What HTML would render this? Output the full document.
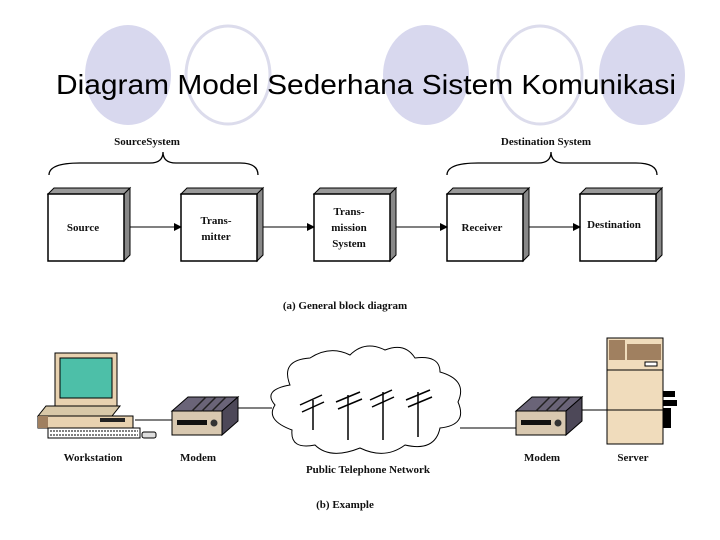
<!DOCTYPE html>
<html><head><style>
body{margin:0;background:#fff;width:720px;height:540px;overflow:hidden}
svg{display:block}
.t{font-family:"Liberation Serif",serif;font-weight:bold;font-size:11px;fill:#111}
</style></head><body>
<svg width="720" height="540" viewBox="0 0 720 540">
<defs>
<marker id="ar" markerWidth="8" markerHeight="8" refX="7" refY="4" orient="auto" markerUnits="userSpaceOnUse"><path d="M0,0 L8,4 L0,8z" fill="#000"/></marker>
<g id="box">
<path d="M0,6 L6,0 L82,0 L76,6z" fill="#999" stroke="#000" stroke-width="1"/>
<path d="M76,6 L82,0 L82,67 L76,73z" fill="#888" stroke="#000" stroke-width="1"/>
<rect x="0" y="6" width="76" height="67" fill="#fff" stroke="#000" stroke-width="1.5"/>
</g>
<g id="modem">
<path d="M0,14 L16,0 L66,0 L50,14z" fill="#6a6478" stroke="#000"/>
<path d="M50,14 L66,0 L66,24 L50,38z" fill="#4d4858" stroke="#000"/>
<rect x="0" y="14" width="50" height="24" fill="#d8c8b0" stroke="#000"/>
<rect x="5" y="23" width="30" height="5" fill="#111"/>
<circle cx="42" cy="26" r="3.5" fill="#333"/>
<path d="M20,14 L34,0 M30,14 L44,0 M40,14 L54,0" stroke="#222" stroke-width="1.5"/>
</g>
</defs>
<ellipse cx="128" cy="75" rx="43" ry="50" fill="#d8d8ee"/>
<ellipse cx="228" cy="75" rx="42" ry="49" fill="none" stroke="#dcdcec" stroke-width="3"/>
<ellipse cx="426" cy="75" rx="43" ry="50" fill="#d8d8ee"/>
<ellipse cx="540" cy="75" rx="42" ry="49" fill="none" stroke="#dcdcec" stroke-width="3"/>
<ellipse cx="642" cy="75" rx="43" ry="50" fill="#d8d8ee"/>
<text x="366" y="94" text-anchor="middle" font-family="Liberation Sans,sans-serif" font-size="28" textLength="620" lengthAdjust="spacingAndGlyphs" fill="#000">Diagram Model Sederhana Sistem Komunikasi</text>

<text class="t" x="147" y="145" text-anchor="middle">SourceSystem</text>
<text class="t" x="546" y="145" text-anchor="middle">Destination System</text>
<path d="M49,175 Q49,163 80,163 L150,163 Q163,163 163,152 Q163,163 176,163 L240,163 Q258,163 258,175" fill="none" stroke="#000" stroke-width="1.3"/>
<path d="M447,175 Q447,163 478,163 L538,163 Q551,163 551,152 Q551,163 564,163 L636,163 Q657,163 657,175" fill="none" stroke="#000" stroke-width="1.3"/>

<use href="#box" x="48" y="188"/>
<use href="#box" x="181" y="188"/>
<use href="#box" x="314" y="188"/>
<use href="#box" x="447" y="188"/>
<use href="#box" x="580" y="188"/>
<text class="t" x="83" y="231" text-anchor="middle">Source</text>
<text class="t" x="216" y="224" text-anchor="middle">Trans-</text>
<text class="t" x="216" y="240" text-anchor="middle">mitter</text>
<text class="t" x="349" y="215" text-anchor="middle">Trans-</text>
<text class="t" x="349" y="231" text-anchor="middle">mission</text>
<text class="t" x="349" y="247" text-anchor="middle">System</text>
<text class="t" x="482" y="231" text-anchor="middle">Receiver</text>
<text class="t" x="614" y="228" text-anchor="middle">Destination</text>
<g stroke="#000" stroke-width="1" marker-end="url(#ar)">
<line x1="130" y1="227" x2="181" y2="227"/>
<line x1="263" y1="227" x2="314" y2="227"/>
<line x1="396" y1="227" x2="447" y2="227"/>
<line x1="529" y1="227" x2="580" y2="227"/>
</g>
<text class="t" x="345" y="309" text-anchor="middle">(a) General block diagram</text>

<g stroke="#000" stroke-width="1">
<line x1="135" y1="420" x2="175" y2="420"/>
<line x1="238" y1="408" x2="272" y2="408"/>
<line x1="460" y1="428" x2="517" y2="428"/>
<line x1="582" y1="410" x2="608" y2="410"/>
</g>
<rect x="55" y="353" width="62" height="53" fill="#e8d2b0" stroke="#000"/>
<rect x="60" y="358" width="52" height="40" fill="#4dbfa8" stroke="#000"/>
<rect x="72" y="406" width="36" height="6" fill="#c8b090" stroke="#000"/>
<path d="M38,416 L46,406 L120,406 L112,416z" fill="#d8c8a8" stroke="#000"/>
<rect x="38" y="416" width="95" height="12" fill="#e8d2b0" stroke="#000"/>
<rect x="38" y="416" width="10" height="12" fill="#a08060"/>
<rect x="100" y="418" width="25" height="4" fill="#222"/>
<rect x="48" y="428" width="92" height="10" fill="#fff" stroke="#000"/>
<path d="M50,431 H138 M50,435 H138" stroke="#000" stroke-dasharray="2 1"/>
<rect x="142" y="432" width="14" height="6" rx="2" fill="#ddd" stroke="#000"/>
<use href="#modem" x="172" y="397"/>
<use href="#modem" x="516" y="397"/>
<path d="M290,385 Q280,360 310,358 Q330,345 350,355 Q365,340 385,350 Q405,342 415,358 Q440,355 440,372 Q468,380 458,402 Q468,425 440,428 Q435,452 405,445 Q385,460 360,448 Q330,460 315,445 Q290,450 292,430 Q265,420 275,405 Q262,390 290,385z" fill="#fff" stroke="#000"/>
<g stroke="#000" stroke-width="1.5">
<line x1="313" y1="400" x2="313" y2="430"/><line x1="300" y1="405" x2="322" y2="395"/><line x1="302" y1="412" x2="324" y2="402"/>
<line x1="348" y1="395" x2="348" y2="440"/><line x1="336" y1="402" x2="360" y2="392"/><line x1="338" y1="409" x2="362" y2="399"/>
<line x1="383" y1="392" x2="383" y2="440"/><line x1="370" y1="400" x2="392" y2="390"/><line x1="372" y1="407" x2="394" y2="397"/>
<line x1="418" y1="392" x2="418" y2="437"/><line x1="406" y1="400" x2="430" y2="390"/><line x1="408" y1="407" x2="432" y2="397"/>
</g>
<rect x="607" y="338" width="56" height="106" fill="#f0dcbc" stroke="#000"/>
<rect x="609" y="340" width="16" height="20" fill="#a08060"/>
<rect x="627" y="344" width="34" height="16" fill="#a08060"/>
<rect x="645" y="362" width="12" height="4" fill="#fff" stroke="#000"/>
<line x1="607" y1="370" x2="663" y2="370" stroke="#000"/>
<line x1="607" y1="410" x2="663" y2="410" stroke="#000"/>
<rect x="663" y="391" width="12" height="6" fill="#000"/>
<rect x="663" y="400" width="14" height="6" fill="#000"/>
<rect x="663" y="408" width="8" height="20" fill="#000"/>
<text class="t" x="93" y="461" text-anchor="middle">Workstation</text>
<text class="t" x="198" y="461" text-anchor="middle">Modem</text>
<text class="t" x="368" y="473" text-anchor="middle">Public Telephone Network</text>
<text class="t" x="542" y="461" text-anchor="middle">Modem</text>
<text class="t" x="633" y="461" text-anchor="middle">Server</text>
<text class="t" x="345" y="508" text-anchor="middle">(b) Example</text>
</svg>
</body></html>
